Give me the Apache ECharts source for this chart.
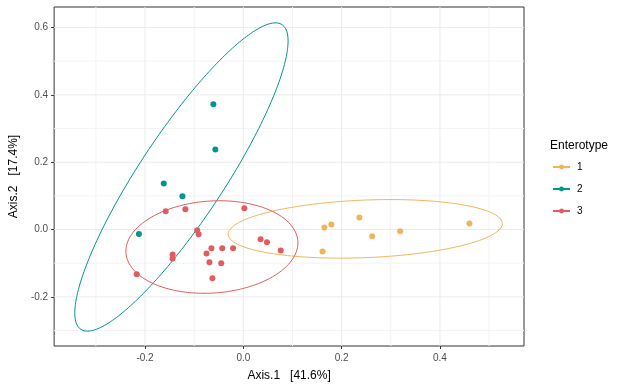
<!DOCTYPE html>
<html><head><meta charset="utf-8">
<script src="https://cdn.jsdelivr.net/npm/echarts@6/dist/echarts.min.js"></script>
<style>html,body{margin:0;padding:0;background:#fff}#c{width:629px;height:389px}</style>
</head><body><div id="c"></div>
<script>
// ---- data ----
var groups = ['1', '2', '3'];
var colors = ['#F0B55C', '#00968F', '#E25B5F'];
var g1x = [0.165, 0.179, 0.236, 0.262, 0.319, 0.460, 0.161];
var g1y = [0.006, 0.015, 0.036, -0.020, -0.005, 0.018, -0.065];
var g2x = [-0.061, -0.057, -0.162, -0.124, -0.2125];
var g2y = [0.372, 0.238, 0.137, 0.099, -0.013];
var g3x = [-0.158, -0.118, 0.002, -0.094, -0.091, 0.035, 0.048, 0.076, -0.065, -0.043, -0.021, -0.075, -0.144, -0.144, -0.069, -0.045, -0.063, -0.217];
var g3y = [0.054, 0.060, 0.063, -0.002, -0.014, -0.029, -0.038, -0.062, -0.056, -0.056, -0.056, -0.071, -0.074, -0.086, -0.097, -0.100, -0.145, -0.133];
// ellipse summaries: centre x, centre y, half-width x, half-height y, correlation
var ellCx = [0.248, -0.126, -0.064];
var ellCy = [0.002, 0.156, -0.052];
var ellSx = [0.279, 0.217, 0.175];
var ellSy = [0.087, 0.458, 0.1375];
var ellR = [0.18, 0.882, 0.09];
// axes
var xTicks = [-0.2, 0.0, 0.2, 0.4];
var xMinor = [-0.3, -0.1, 0.1, 0.3, 0.5];
var yTicks = [-0.2, 0.0, 0.2, 0.4, 0.6];
var yMinor = [-0.3, -0.1, 0.1, 0.3, 0.5];
var xRange = [-0.385, 0.571];
var yRange = [-0.346, 0.661];
var xTitle = 'Axis.1   [41.6%]';
var yTitle = 'Axis.2   [17.4%]';
var legendTitle = 'Enterotype';

var xs = [g1x, g2x, g3x], ys = [g1y, g2y, g3y];
function pairs(a, b) { return a.map(function (v, i) { return [v, b[i]]; }); }
function ellipse(k) {
  var pts = [], n = 240, r = ellR[k], q = Math.sqrt(1 - r * r);
  for (var i = 0; i <= n; i++) {
    var t = 2 * Math.PI * i / n;
    pts.push([ellCx[k] + ellSx[k] * Math.cos(t), ellCy[k] + ellSy[k] * (r * Math.cos(t) + q * Math.sin(t))]);
  }
  return pts;
}
var font = 'Liberation Sans, Arial, sans-serif';
var series = [];
// grid lines as plain line series beneath everything
function vline(v, color) {
  return { type: 'line', data: [[v, yRange[0]], [v, yRange[1]]], showSymbol: false, silent: true, z: 0,
    lineStyle: { color: color, width: 1 } };
}
function hline(v, color) {
  return { type: 'line', data: [[xRange[0], v], [xRange[1], v]], showSymbol: false, silent: true, z: 0,
    lineStyle: { color: color, width: 1 } };
}
xMinor.forEach(function (v) { series.push(vline(v, '#F3F3F3')); });
yMinor.forEach(function (v) { series.push(hline(v, '#F3F3F3')); });
xTicks.forEach(function (v) { series.push(vline(v, '#EBEBEB')); });
yTicks.forEach(function (v) { series.push(hline(v, '#EBEBEB')); });
for (var k = 0; k < 3; k++) {
  series.push({
    name: 'ell' + k, type: 'line', data: ellipse(k), showSymbol: false, smooth: false, silent: true, z: 2,
    lineStyle: { color: colors[k], width: 1 }
  });
  series.push({
    name: 'pts' + k, type: 'scatter', data: pairs(xs[k], ys[k]), symbolSize: 6, z: 3,
    itemStyle: { color: colors[k], opacity: 1 }
  });
  series.push({
    name: groups[k], type: 'line', data: [], symbol: 'circle', symbolSize: 6,
    itemStyle: { color: colors[k] }, lineStyle: { color: colors[k], width: 1 }
  });
}
var chart = echarts.init(document.getElementById('c'), null, { renderer: 'canvas' });
chart.setOption({
  animation: false,
  backgroundColor: '#fff',
  textStyle: { fontFamily: font },
  title: {
    text: legendTitle, left: 545, top: 135,
    textStyle: { fontSize: 12, fontWeight: 'normal', color: '#000', fontFamily: font }
  },
  legend: {
    data: groups, orient: 'vertical', left: 547, top: 157, itemWidth: 17, itemHeight: 6, itemGap: 12,
    textStyle: { fontSize: 10, color: '#000', fontFamily: font, padding: [0, 0, 0, 2] },
    selectedMode: false
  },
  grid: { left: 51, right: 105, top: 7, bottom: 43, show: true, borderColor: '#333', borderWidth: 1, backgroundColor: '#fff' },
  xAxis: {
    type: 'value', min: xRange[0], max: xRange[1],
    name: xTitle, nameLocation: 'middle', nameGap: 24,
    nameTextStyle: { fontSize: 12, color: '#000', fontFamily: font },
    axisLine: { show: false, onZero: false }, splitLine: { show: false },
    axisTick: { show: true, customValues: xTicks, length: 3, lineStyle: { color: '#333' } },
    axisLabel: { customValues: xTicks, margin: 7, fontSize: 10, color: '#4D4D4D', fontFamily: font,
      formatter: function (v) { return v.toFixed(1); } }
  },
  yAxis: {
    type: 'value', min: yRange[0], max: yRange[1],
    name: yTitle, nameLocation: 'middle', nameGap: 28,
    nameTextStyle: { fontSize: 12, color: '#000', fontFamily: font },
    axisLine: { show: false, onZero: false }, splitLine: { show: false },
    axisTick: { show: true, customValues: yTicks, length: 3, lineStyle: { color: '#333' } },
    axisLabel: { customValues: yTicks, margin: 6, fontSize: 10, color: '#4D4D4D', fontFamily: font,
      formatter: function (v) { return v.toFixed(1); } }
  },
  series: series
});
</script></body></html>
